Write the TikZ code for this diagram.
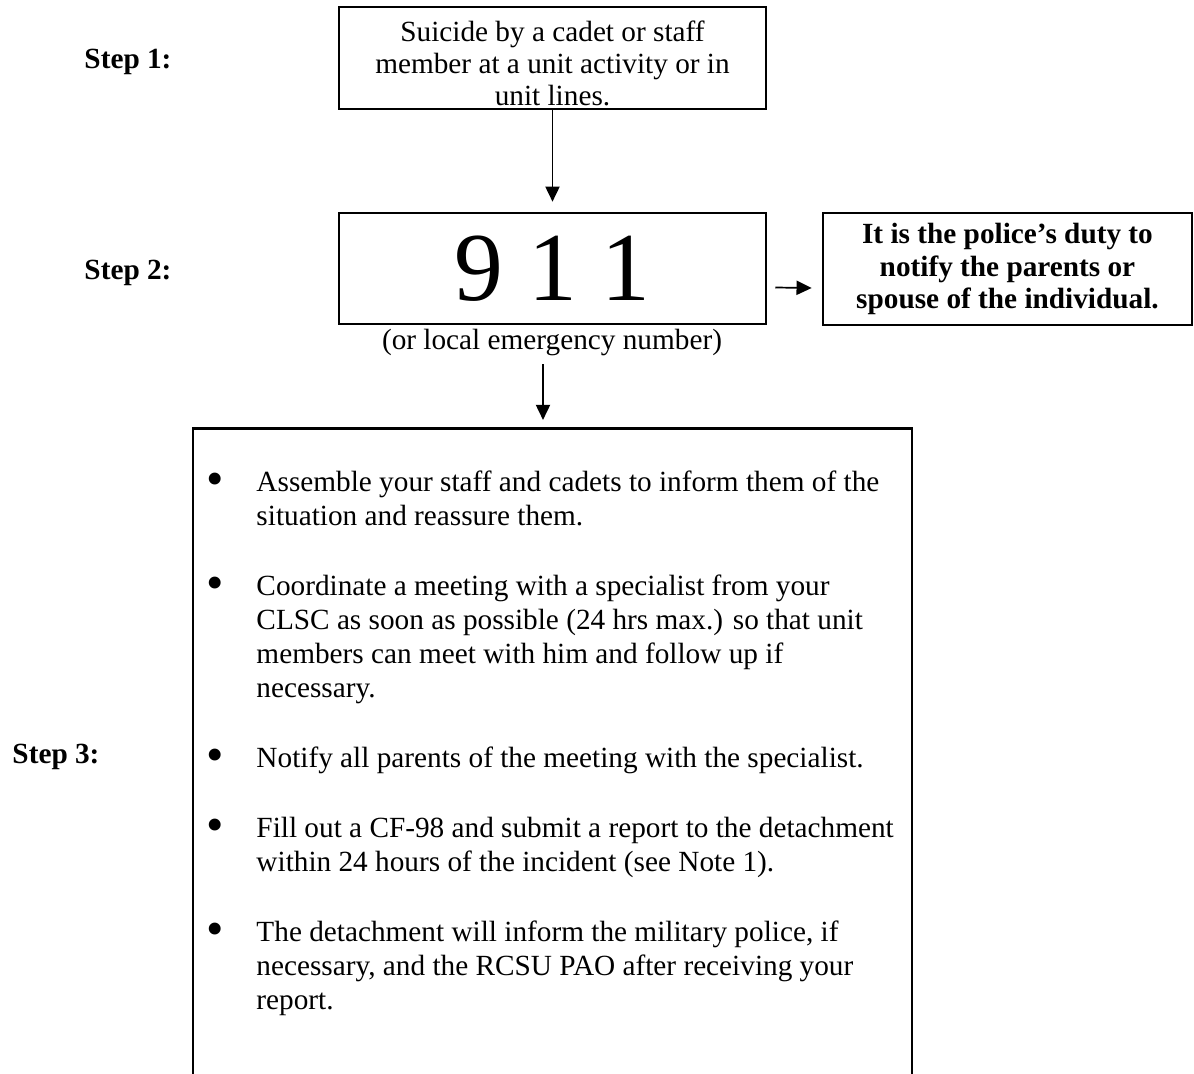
\documentclass[tikz,border=0pt]{standalone}
\usepackage{fontspec}
\setmainfont{Liberation Serif}
\usepackage{graphicx}
\usepackage{tikz}
\usetikzlibrary{arrows.meta,calc,positioning}

\newcommand{\bodyfont}{\fontsize{12}{13.94}\selectfont}
\newcommand{\boxfont}{\fontsize{12}{13.2}\selectfont}
\newcommand{\listdot}{\raisebox{-1.6pt}{\scalebox{1.7}{\textbullet}}}

\begin{document}
\begin{tikzpicture}[x=0.41pt,y=-0.41pt,font=\bodyfont,
    box/.style={draw,line width=1.1pt,inner sep=0pt},
    steplabel/.style={anchor=west,inner sep=0pt,font=\bodyfont\bfseries},
    arr/.style={line width=0.7pt,-{Triangle[length=6.2pt,width=5.8pt]}}]
    \useasboundingbox (0,0) rectangle (1194,1074);

    % Step labels
    \node[steplabel] (step1) at (84,62) {Step 1:};
    \node[steplabel] (step2) at (84,273) {Step 2:};
    \node[steplabel] (step3) at (12,757) {Step 3:};

    % Step 1 box
    \node[box,minimum width=175pt,minimum height=41.8pt] (incident) at (552.5,58) {};
    \node[align=center,font=\boxfont] (incidenttext) at (552.5,63.5)
        {Suicide by a cadet or staff\\member at a unit activity or in\\unit lines.};

    % Step 2 box and the police box
    \node[box,minimum width=175pt,minimum height=45.5pt,
        font=\fontsize{40}{40}\selectfont] (nine) at (552.5,268.5) {9 1 1};
    \node[box,minimum width=151.3pt,minimum height=45.9pt,align=center,
        font=\boxfont\bfseries] (police) at (1007.5,269)
        {It is the police’s duty to\\notify the parents or\\spouse of the individual.};
    \node (note) at (552,342.5) {(or local emergency number)};

    % Step 3 box (runs off the page)
    \node[box,anchor=north,minimum width=294.8pt,minimum height=290pt] (tasksbox) at (552.5,427) {};
    \node[anchor=base west,inner sep=0pt] (tasks) at (206,491.5) {%
        \begin{tabular}[t]{@{}p{20.5pt}@{}l@{}}
        \listdot & Assemble your staff and cadets to inform them of the\\
                 & situation and reassure them.\\[14.76pt]
        \listdot & Coordinate a meeting with a specialist from your\\
                 & CLSC as soon as possible (24 hrs max.) so that unit\\
                 & members can meet with him and follow up if\\
                 & necessary.\\[14.76pt]
        \listdot & Notify all parents of the meeting with the specialist.\\[14.76pt]
        \listdot & Fill out a CF-98 and submit a report to the detachment\\
                 & within 24 hours of the incident (see Note 1).\\[14.76pt]
        \listdot & The detachment will inform the military police, if\\
                 & necessary, and the RCSU PAO after receiving your\\
                 & report.
        \end{tabular}};

    % Arrows
    \coordinate (drop) at (543,0);
    \draw[arr,shorten >=4.1pt] (incident.south) -- (incident.south |- nine.north);
    \draw[arr] ($(nine.east)+(8,19)$) -- ($(police.west)+(-10,19)$);
    \draw[arr,shorten >=2.9pt] (note.south -| drop) -- (tasksbox.north -| drop);
\end{tikzpicture}
\end{document}
